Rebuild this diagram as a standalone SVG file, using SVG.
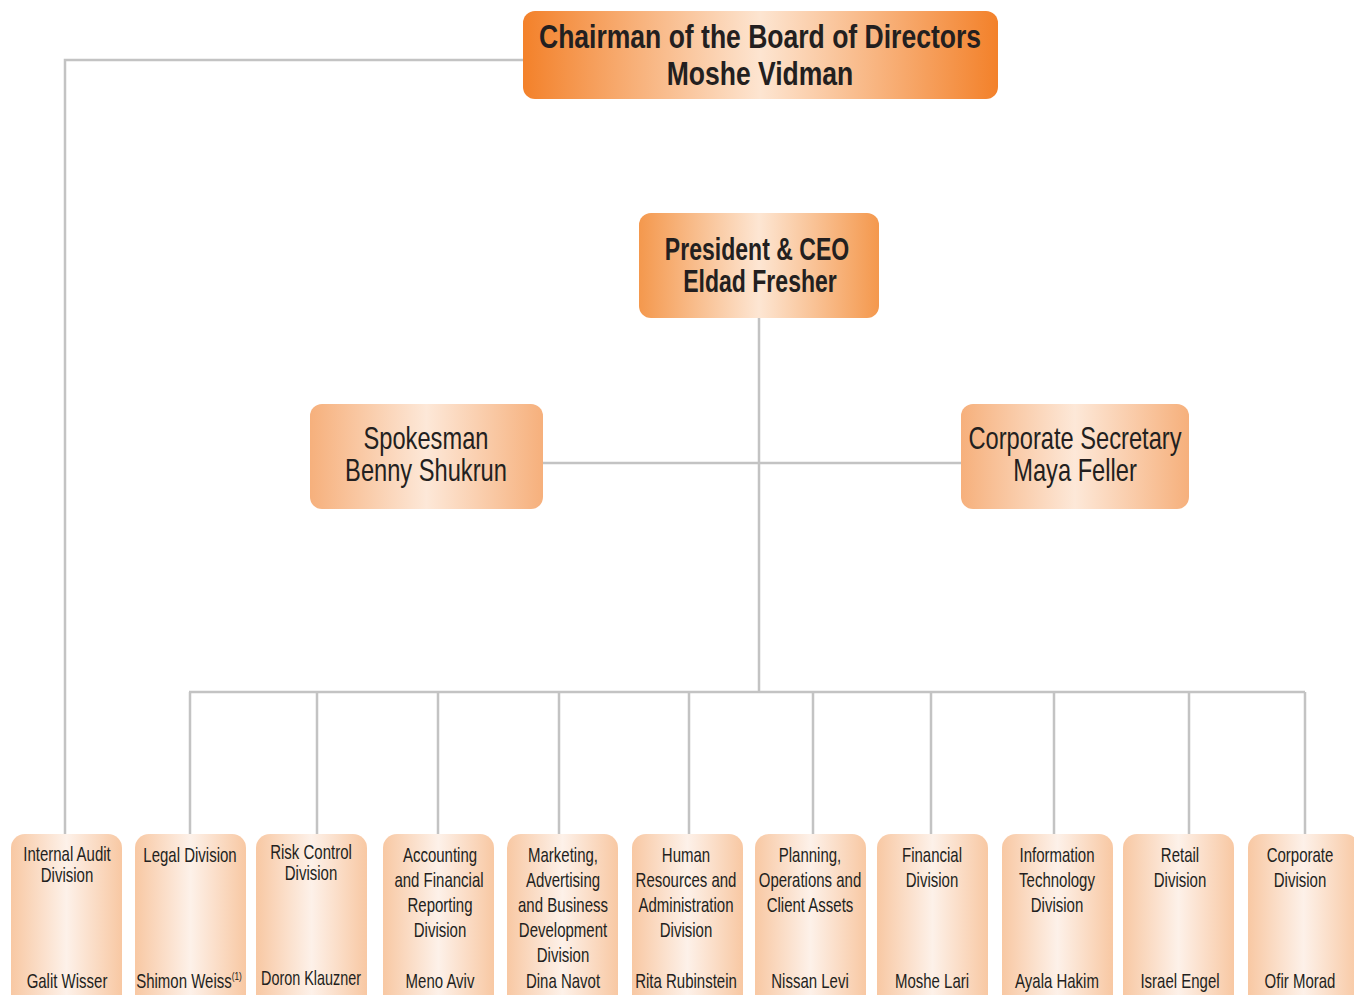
<svg xmlns="http://www.w3.org/2000/svg" width="1354" height="995" viewBox="0 0 1354 995">
<defs>
<linearGradient id="gTop" x1="0" y1="0" x2="1" y2="0">
<stop offset="0" stop-color="#f3812a"/><stop offset="0.5" stop-color="#fde5d1"/><stop offset="1" stop-color="#f3812a"/>
</linearGradient>
<linearGradient id="gCeo" x1="0" y1="0" x2="1" y2="0">
<stop offset="0" stop-color="#f4984d"/><stop offset="0.5" stop-color="#fde6d3"/><stop offset="1" stop-color="#f4984d"/>
</linearGradient>
<linearGradient id="gMid" x1="0" y1="0" x2="1" y2="0">
<stop offset="0" stop-color="#f6b07c"/><stop offset="0.5" stop-color="#fde8d8"/><stop offset="1" stop-color="#f6b07c"/>
</linearGradient>
<linearGradient id="gDiv" x1="0" y1="0" x2="1" y2="0">
<stop offset="0" stop-color="#f8c8a3"/><stop offset="0.5" stop-color="#fdf1e9"/><stop offset="1" stop-color="#f8c8a3"/>
</linearGradient>
</defs>
<style>
text{font-family:"Liberation Sans",Arial,sans-serif;fill:#231f20;text-anchor:middle}
.chair{font-size:34px;font-weight:bold}
.ceo{font-size:32px;font-weight:bold}
.mid{font-size:32px}
.div{font-size:20px}
.con{stroke:#c3c3c3;stroke-width:2.5;fill:none}
</style>
<g id="connectors">
<polyline class="con" points="523,60 65,60 65,834"/>
<line class="con" x1="759" y1="318" x2="759" y2="692"/>
<line class="con" x1="543" y1="463" x2="961" y2="463"/>
<line class="con" x1="189" y1="692" x2="1305" y2="692"/>
<line class="con" x1="190" y1="692" x2="190" y2="834"/>
<line class="con" x1="317" y1="692" x2="317" y2="834"/>
<line class="con" x1="438" y1="692" x2="438" y2="834"/>
<line class="con" x1="559" y1="692" x2="559" y2="834"/>
<line class="con" x1="689" y1="692" x2="689" y2="834"/>
<line class="con" x1="813" y1="692" x2="813" y2="834"/>
<line class="con" x1="931" y1="692" x2="931" y2="834"/>
<line class="con" x1="1054" y1="692" x2="1054" y2="834"/>
<line class="con" x1="1189" y1="692" x2="1189" y2="834"/>
<line class="con" x1="1305" y1="692" x2="1305" y2="834"/>
</g>
<g id="chairman">
<rect x="523" y="11" width="475" height="88" rx="12" fill="url(#gTop)"/>
<text class="chair" transform="matrix(0.78,0,0,1,760,48)">Chairman of the Board of Directors</text>
<text class="chair" transform="matrix(0.78,0,0,1,760,85)">Moshe Vidman</text>
</g>
<g id="ceo">
<rect x="639" y="213" width="240" height="105" rx="12" fill="url(#gCeo)"/>
<text class="ceo" transform="matrix(0.72,0,0,1,757,260)">President &amp; CEO</text>
<text class="ceo" transform="matrix(0.72,0,0,1,760,292)">Eldad Fresher</text>
</g>
<g id="spokesman">
<rect x="310" y="404" width="233" height="105" rx="12" fill="url(#gMid)"/>
<text class="mid" transform="matrix(0.74,0,0,1,426,449)">Spokesman</text>
<text class="mid" transform="matrix(0.74,0,0,1,426,481)">Benny Shukrun</text>
</g>
<g id="secretary">
<rect x="961" y="404" width="228" height="105" rx="12" fill="url(#gMid)"/>
<text class="mid" transform="matrix(0.74,0,0,1,1075,449)">Corporate Secretary</text>
<text class="mid" transform="matrix(0.74,0,0,1,1075,481)">Maya Feller</text>
</g>
<g id="div-internal-audit">
<rect x="11" y="834" width="111" height="175" rx="14" fill="url(#gDiv)"/>
<text class="div" transform="matrix(0.75,0,0,1,67,861)">Internal Audit</text>
<text class="div" transform="matrix(0.75,0,0,1,67,882)">Division</text>
<text class="div" transform="matrix(0.75,0,0,1,67,988)">Galit Wisser</text>
</g>
<g id="div-legal">
<rect x="135" y="834" width="111" height="175" rx="14" fill="url(#gDiv)"/>
<text class="div" transform="matrix(0.75,0,0,1,190,862)">Legal Division</text>
<text class="div" transform="matrix(0.75,0,0,1,189,988)">Shimon Weiss<tspan font-size="11" dy="-8">(1)</tspan></text>
</g>
<g id="div-risk">
<rect x="256" y="834" width="111" height="175" rx="14" fill="url(#gDiv)"/>
<text class="div" transform="matrix(0.75,0,0,1,311,859)">Risk Control</text>
<text class="div" transform="matrix(0.75,0,0,1,311,880)">Division</text>
<text class="div" transform="matrix(0.72,0,0,1,311,985)">Doron Klauzner</text>
</g>
<g id="div-accounting">
<rect x="383" y="834" width="111" height="175" rx="14" fill="url(#gDiv)"/>
<text class="div" transform="matrix(0.75,0,0,1,440,862)">Accounting</text>
<text class="div" transform="matrix(0.75,0,0,1,439,887)">and Financial</text>
<text class="div" transform="matrix(0.75,0,0,1,440,912)">Reporting</text>
<text class="div" transform="matrix(0.75,0,0,1,440,937)">Division</text>
<text class="div" transform="matrix(0.75,0,0,1,440,988)">Meno Aviv</text>
</g>
<g id="div-marketing">
<rect x="507" y="834" width="111" height="175" rx="14" fill="url(#gDiv)"/>
<text class="div" transform="matrix(0.75,0,0,1,563,862)">Marketing,</text>
<text class="div" transform="matrix(0.75,0,0,1,563,887)">Advertising</text>
<text class="div" transform="matrix(0.75,0,0,1,563,912)">and Business</text>
<text class="div" transform="matrix(0.75,0,0,1,563,937)">Development</text>
<text class="div" transform="matrix(0.75,0,0,1,563,962)">Division</text>
<text class="div" transform="matrix(0.75,0,0,1,563,988)">Dina Navot</text>
</g>
<g id="div-hr">
<rect x="632" y="834" width="111" height="175" rx="14" fill="url(#gDiv)"/>
<text class="div" transform="matrix(0.75,0,0,1,686,862)">Human</text>
<text class="div" transform="matrix(0.75,0,0,1,686,887)">Resources and</text>
<text class="div" transform="matrix(0.75,0,0,1,686,912)">Administration</text>
<text class="div" transform="matrix(0.75,0,0,1,686,937)">Division</text>
<text class="div" transform="matrix(0.75,0,0,1,686,988)">Rita Rubinstein</text>
</g>
<g id="div-planning">
<rect x="755" y="834" width="111" height="175" rx="14" fill="url(#gDiv)"/>
<text class="div" transform="matrix(0.75,0,0,1,810,862)">Planning,</text>
<text class="div" transform="matrix(0.75,0,0,1,810,887)">Operations and</text>
<text class="div" transform="matrix(0.75,0,0,1,810,912)">Client Assets</text>
<text class="div" transform="matrix(0.75,0,0,1,810,988)">Nissan Levi</text>
</g>
<g id="div-financial">
<rect x="877" y="834" width="111" height="175" rx="14" fill="url(#gDiv)"/>
<text class="div" transform="matrix(0.75,0,0,1,932,862)">Financial</text>
<text class="div" transform="matrix(0.75,0,0,1,932,887)">Division</text>
<text class="div" transform="matrix(0.75,0,0,1,932,988)">Moshe Lari</text>
</g>
<g id="div-it">
<rect x="1002" y="834" width="111" height="175" rx="14" fill="url(#gDiv)"/>
<text class="div" transform="matrix(0.75,0,0,1,1057,862)">Information</text>
<text class="div" transform="matrix(0.75,0,0,1,1057,887)">Technology</text>
<text class="div" transform="matrix(0.75,0,0,1,1057,912)">Division</text>
<text class="div" transform="matrix(0.75,0,0,1,1057,988)">Ayala Hakim</text>
</g>
<g id="div-retail">
<rect x="1123" y="834" width="111" height="175" rx="14" fill="url(#gDiv)"/>
<text class="div" transform="matrix(0.75,0,0,1,1180,862)">Retail</text>
<text class="div" transform="matrix(0.75,0,0,1,1180,887)">Division</text>
<text class="div" transform="matrix(0.75,0,0,1,1180,988)">Israel Engel</text>
</g>
<g id="div-corporate">
<rect x="1248" y="834" width="111" height="175" rx="14" fill="url(#gDiv)"/>
<text class="div" transform="matrix(0.75,0,0,1,1300,862)">Corporate</text>
<text class="div" transform="matrix(0.75,0,0,1,1300,887)">Division</text>
<text class="div" transform="matrix(0.75,0,0,1,1300,988)">Ofir Morad</text>
</g>
</svg>
